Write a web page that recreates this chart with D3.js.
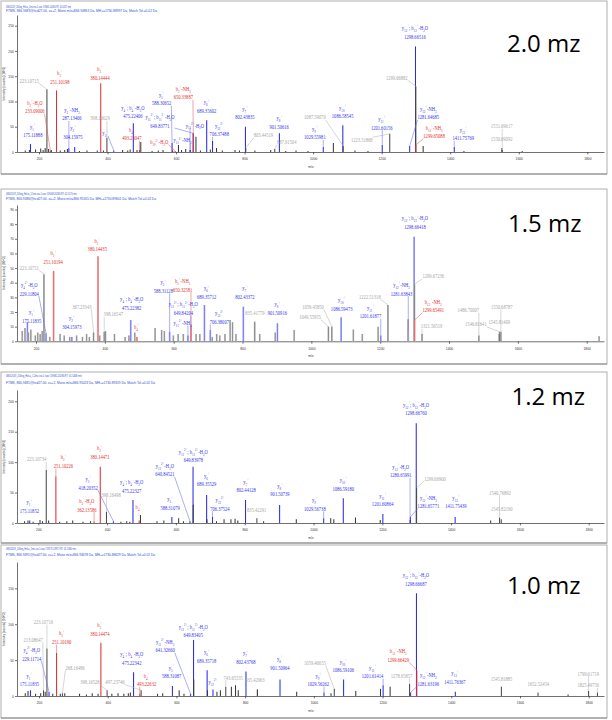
<!DOCTYPE html>
<html><head><meta charset="utf-8">
<script src="https://cdn.jsdelivr.net/npm/d3@7"></script>
<style>body{margin:0;background:#fff}svg{display:block}</style>
</head><body>
<svg id="c" width="612" height="720"></svg>
<script>
// ---------------- DATA ----------------
const xTicks = [200,400,600,800,1000,1200,1400,1600,1800];
const yTicks20 = [0,50,100,150,200,250];
const yTicks15 = [0,10,20,30,40,50,60,70,80,90];
const yTicks12 = [0,50,100,150,200];
const yTicks10 = [0,50,100,150];
const tags = ["2.0 mz","1.5 mz","1.2 mz","1.0 mz"];
const yTitle = "Intensity [counts] (10^3)";
const xTitle = "m/z";

const head20 = ["08052019_200ng_HeLa_2mz-iso-1.raw #19665-20340 RT: 41.6237 min","FTMS, 866.9483@hcd27.00, z=+2, Mono m/z=866.94863 Da, MH+=1730.88997 Da, Match Tol.=0.02 Da"];
const head15 = ["08052019_200ng_HeLa_1.5mz-iso-1.raw #19408-20186 RT: 41.5170 min","FTMS, 866.9486@hcd27.00, z=+2, Mono m/z=866.95165 Da, MH+=1730.89601 Da, Match Tol.=0.02 Da"];
const head12 = ["08052019_200ng_HeLa_1.2mz-iso-1.raw #19681-20280 RT: 41.5448 min","FTMS, 866.9481@hcd27.00, z=+2, Mono m/z=866.95023 Da, MH+=1730.89319 Da, Match Tol.=0.02 Da"];
const head10 = ["08052019_200ng_HeLa_1mz-iso-1.raw #19175-19917 RT: 41.5360 min","FTMS, 866.9491@hcd27.00, z=+2, Mono m/z=866.94678 Da, MH+=1730.88629 Da, Match Tol.=0.02 Da"];

// annotated peaks: [m/z, intensity, kind (b=blue y/b ion, r=red b ion, g=unassigned), ion name, show m/z]
const ions20 = [
 [175.11888,16,"b","y_{1}^{+}",1],[233.09006,3,"r","b_{2}^{+}-H_{2}O",1],[223.10715,124,"g","",1],
 [251.10198,122,"r","b_{2}^{+}",1],[287.13406,8,"b","y_{2}^{+}-NH_{3}",1],[304.15975,10,"b","y_{2}^{+}",1],
 [380.14444,136,"r","b_{3}^{+}",1],[398.16629,28,"g","",1],[418.20352,3,"b","y_{3}^{+}",0],
 [475.22406,57,"b","y_{4}^{+}; b_{4}^{+}-H_{2}O",1],[493.23047,4,"r","b_{4}^{+}",1],[588.30652,18,"b","y_{5}^{+}",1],
 [650.33887,37,"r","b_{5}^{+}-NH_{3}",1],[649.83771,37,"b","y_{11}^{2+}; b_{11}^{2+}-H_{2}O",1],
 [640.83,4,"b","y_{11}^{2+}-H_{2}O",0],[641.32,4,"b","y_{11}^{2+}-NH_{3}",0],[597.3,2,"r","b_{10}^{2+}-H_{2}O",0],
 [689.35602,63,"b","y_{6}^{+}",1],[706.37488,22,"b","y_{12}^{2+}",1],[802.43835,50,"b","y_{7}^{+}",1],
 [803.44519,8,"g","",1],[901.50616,37,"b","y_{8}^{+}",1],[887.91504,6,"g","",1],[1087.59070,12,"g","",1],
 [1029.55981,10,"b","y_{9}^{+}",1],[1086.58545,53,"b","y_{10}^{+}",1],[1223.51868,36,"g","",1],
 [1201.60156,14,"b","y_{11}^{+}",1],[1298.66516,209,"b","y_{12}^{+}; b_{12}^{+}-H_{2}O",1],[1299.66882,130,"g","",1],
 [1281.64685,12,"b","y_{12}^{+}-NH_{3}",1],[1299.65088,14,"r","b_{12}^{+}-NH_{3}",1],[1411.75769,10,"b","y_{13}^{+}",1],
 [1551.69617,4,"g","",1],[1550.69092,8,"g","",1]
];
const ions15 = [
 [175.11835,13,"b","y_{1}^{+}",1],[229.11804,5.5,"b","y_{4}^{2+}-H_{2}O",1],[223.10711,45.7,"g","",1],
 [251.10194,48,"r","b_{2}^{+}",1],[304.15973,3,"b","y_{2}^{+}",1],[367.23343,6,"g","",1],
 [380.14435,58,"r","b_{3}^{+}",1],[398.16547,6.5,"g","",1],[475.22382,14.5,"b","y_{4}^{+}; b_{4}^{+}-H_{2}O",1],
 [493.23,3,"r","b_{4}^{+}",0],[588.31128,6.5,"b","y_{5}^{+}",1],[650.32581,11,"r","b_{5}^{+}-NH_{3}",1],
 [649.84204,8,"b","y_{11}^{2+}; b_{11}^{2+}-H_{2}O",1],[641.32,4,"b","y_{11}^{2+}-NH_{3}",0],
 [689.35712,24.8,"b","y_{6}^{+}",1],[706.38007,7.7,"b","y_{12}^{2+}",1],[802.43372,23.6,"b","y_{7}^{+}",1],
 [835.41779,13.4,"g","",1],[901.50916,12.3,"b","y_{8}^{+}",1],[1059.45850,10,"g","",1],[1049.55955,10,"g","",1],
 [1086.59473,16.4,"b","y_{10}^{+}",1],[1201.61877,4,"b","y_{11}^{+}",1],[1222.51318,24.8,"g","",1],
 [1298.66418,71.4,"b","y_{12}^{+}; b_{12}^{+}-H_{2}O",1],[1299.67236,39,"g","",1],
 [1281.63843,7.7,"b","y_{12}^{+}-NH_{3}",1],[1299.65491,14.5,"r","b_{12}^{+}-NH_{3}",1],[1321.56519,5,"g","",1],
 [1486.70007,4,"g","",1],[1546.81641,6.5,"g","",1],[1550.68787,6.5,"g","",1],[1545.81409,5,"g","",1]
];
const ions12 = [
 [175.11852,4,"b","y_{1}^{+}",1],[223.10734,87,"g","",1],[251.10226,77,"r","b_{2}^{+}",1],
 [380.14471,92.6,"r","b_{3}^{+}",1],[418.20352,3,"b","y_{3}^{+}",1],[362.13586,3,"r","b_{3}^{+}-H_{2}O",1],
 [398.16498,18.6,"g","",1],[475.22327,37.8,"b","y_{4}^{+}; b_{4}^{+}-H_{2}O",1],[493.23,4,"r","b_{4}^{+}",0],
 [588.31079,10,"b","y_{5}^{+}",1],[640.84521,3,"b","y_{11}^{2+}-H_{2}O",1],
 [649.83978,92.6,"b","y_{11}^{2+}; b_{11}^{2+}-H_{2}O",1],[689.35529,46,"b","y_{6}^{+}",1],
 [706.37524,10,"b","y_{12}^{2+}",1],[802.44128,37.8,"b","y_{7}^{+}",1],[835.42291,8,"g","",1],
 [901.50739,29.6,"b","y_{8}^{+}",1],[1029.56738,7.7,"b","y_{9}^{+}",1],[1086.59180,40.6,"b","y_{10}^{+}",1],
 [1201.60864,14.8,"b","y_{11}^{+}",1],[1280.65991,5,"b","y_{12}^{+}-H_{2}O",1],
 [1298.66760,164,"b","y_{12}^{+}; b_{12}^{+}-H_{2}O",1],[1299.66900,58,"g","",1],
 [1281.65771,10,"b","y_{12}^{+}-NH_{3}",1],[1411.75439,10,"b","y_{13}^{+}",1],
 [1540.76892,9,"g","",1],[1545.82190,6,"g","",1]
];
const ions10 = [
 [175.11835,8,"b","y_{1}^{+}",1],[229.11714,6,"b","y_{4}^{2+}-H_{2}O",1],[213.08647,8,"g","",1],
 [223.10716,66,"g","",1],[251.10190,60,"r","b_{2}^{+}",1],[268.16486,4,"g","",1],
 [380.14474,74,"r","b_{3}^{+}",1],[398.16528,8,"g","",1],[497.23746,8,"g","",1],
 [475.22342,33,"b","y_{4}^{+}; b_{4}^{+}-H_{2}O",1],[493.22632,3,"r","b_{4}^{+}",1],[588.31087,14,"b","y_{5}^{+}",1],
 [641.32660,3,"b","y_{11}^{2+}-NH_{3}",1],[649.83405,78,"b","y_{11}^{2+}; b_{11}^{2+}-H_{2}O",1],
 [689.35718,36,"b","y_{6}^{+}",1],[706.37,9,"b","y_{12}^{2+}",0],[743.65535,13,"g","",1],
 [802.43768,34,"b","y_{7}^{+}",1],[835.42963,9,"g","",1],[901.50964,23,"b","y_{8}^{+}",1],
 [1059.46655,10,"g","",1],[1029.56262,5,"b","y_{9}^{+}",1],[1086.59106,23,"b","y_{10}^{+}",1],
 [1201.61414,15,"b","y_{11}^{+}",1],[1278.65857,17,"g","",1],
 [1298.66687,143,"b","y_{12}^{+}; b_{12}^{+}-H_{2}O",1],[1299.66429,36,"r","b_{12}^{+}-NH_{3}",1],
 [1281.63196,5,"b","y_{12}^{+}-NH_{3}",1],[1411.76367,6,"b","y_{13}^{+}",1],[1545.81885,13,"g","",1],
 [1652.52454,5,"g","",1],[1799.61719,7,"g","",1],[1825.49756,5,"g","",1]
];

// unassigned small peaks: [m/z, intensity]
const peaks20 = [[160,3],[172,4],[190,5],[205,7],[212,4],[218,8],[228,6],[236,4],[262,3],[275,4],[283,6],[318,2],[340,3],[370,3],[388,3],[444,4],[459,3],[466,5],[486,4],[497,20],[530,2],[548,3],[562,4],[590,3],[607,14],[616,4],[628,6],[658,30],[671,3],[700,5],[718,8],[735,3],[772,4],[785,3],[830,3],[876,4],[920,2],[950,3],[985,2],[1059,18],[1122,3],[1160,2],[1321,12],[1440,2],[1610,2]];
const peaks15 = [[160,7],[168,9],[178,6],[185,8],[198,4],[205,6],[212,5],[218,7],[240,3],[270,5],[282,4],[298,3],[318,4],[335,3],[347,5],[355,3],[385,4],[402,7],[428,5],[459,3],[470,4],[487,6],[546,9],[565,7.7],[573,7],[599,4],[613,5],[628,5],[665,5],[676,5],[712,3],[725,5],[734,4],[749,5],[764,14.5],[771,13],[781,5],[850,5],[895,6],[950,7.7],[1122,8],[1148,5],[1194,10],[1281,15],[1836,3.5]];
const peaks12 = [[160,3],[170,4],[185,2],[205,5],[212,3],[230,4],[262,2],[283,3],[300,4],[330,2],[352,3],[440,2],[457,3],[466,2],[497,13],[545,3],[565,4],[608,8],[622,3],[650.34,30],[690.36,6],[718,3],[740,6],[760,6],[772,7],[780,4],[855,3],[950,6],[1050,7.7],[1059,6],[1122,9],[1194,5],[1515,4]];
const peaks10 = [[160,4],[168,7],[190,3],[205,4],[218,6],[240,3],[262,3],[275,4],[318,3],[338,2],[355,4],[372,3],[412,3],[430,4],[447,3],[460,4],[466,5],[545,3],[560,4],[608,8],[622,3],[650.34,23],[690.36,8],[718,6],[728,8],[760,13],[772,15],[780,8],[836,9],[950,6],[1050,4],[1122,7],[1194,10],[1222,13],[1740,2]];

// ---------------- LAYOUT (label anchors in data units: [m/z, intensity] of bottom text line) ----------------
const lab20 = [[182,33.6],[188,81],[171,142],[261,140],[296,67],[299,30],[378,148],[378,67],[393,37.5],[474,71],[471,27.7],[558,97],[621,109],[553,53],[655,53],[619,23.7],[551,20],[689,81.6],[726,35.6],[801,69],[855,33.6],[901,50],[923,20],[1005,69],[1005,29.6],[1086,71],[1142,23.7],[1200,49],[1297,229],[1244,147.6],[1336,69],[1353,31.6],[1438,27.7],[1550,51.4],[1550,25.7]];
const lab15 = [[187.5,14],[180.5,32.8],[180.5,50.5],[250,54.3],[304,10],[333,23.6],[378,63],[424.5,18.6],[478,23.2],[492.5,10],[570,34.5],[626,35.5],[628,19.5],[626,12.7],[696,30.4],[732.5,13.4],[807,30.4],[836,19.5],[901,19.5],[1005,23.6],[996,16.8],[1088,22.5],[1172,17.3],[1170,30.4],[1301,78.2],[1354,44.6],[1262,32.8],[1354,21.4],[1349,10.4],[1456,21.4],[1478,11.8],[1553,23.6],[1546,13.4]];
const lab12 = [[174,20],[195,105],[273,94],[379,109],[345,58.7],[341,22.5],[412,47],[471.5,53],[491,26.8],[583,25.2],[568,80.6],[650.6,103.6],[689.5,64],[728,24],[804,54.3],[835,21.4],[902.6,47.7],[1004,24],[1086.6,57],[1201,31.3],[1253.5,79],[1298,180.5],[1353,73.5],[1334,28],[1414,28],[1542,50],[1547,24]];
const lab10 = [[172,16.7],[179,52.5],[183,79],[212.5,103.5],[266,75.6],[305,40],[377.5,87.3],[348,20],[421,20],[470,46.4],[513,16.7],[586,27.9],[567,64],[649,85],[688,49],[706,20],[765,26],[802,47.8],[828.6,22.3],[901,40],[1003,46.4],[1013,16.7],[1085.5,36.2],[1171,27.9],[1255,27.9],[1297,157],[1245.6,51],[1333,17.7],[1410.5,20],[1546.5,24.7],[1653,16.7],[1798.5,31.6],[1798.5,15.3]];

const layout = [
 {top:1,bottom:174,x200:39,x1800:587.3,y0:152,yT:25.7,yTv:250,yAxTop:15,hy:[6.5,10.8],hw:[65,151],hfs:3.2,tagX:507,tagY:52,soft:false},
 {top:189,bottom:364,x200:36,x1800:586.7,y0:341.3,yT:209.5,yTv:90,yAxTop:205,hy:[194.3,199.3],hw:[70.7,150],hfs:3.3,tagX:508,tagY:232,soft:true},
 {top:372,bottom:543,x200:38.3,x1800:588.7,y0:523,yT:401.3,yTv:200,yAxTop:390,hy:[375.3,383],hw:[75.7,149],hfs:3.8,tagX:511.5,tagY:405,soft:false},
 {top:545,bottom:718,x200:39,x1800:588.7,y0:696,yT:588.3,yTv:150,yAxTop:562,hy:[549.3,554.8],hw:[70,149],hfs:3.3,tagX:507,tagY:593.5,soft:false}
];
const panels = [
 {ions:ions20,labs:lab20,peaks:peaks20,yTicks:yTicks20,head:head20},
 {ions:ions15,labs:lab15,peaks:peaks15,yTicks:yTicks15,head:head15},
 {ions:ions12,labs:lab12,peaks:peaks12,yTicks:yTicks12,head:head12},
 {ions:ions10,labs:lab10,peaks:peaks10,yTicks:yTicks10,head:head10}
];

const COL = {
 b:{peak:"#2b2bea",soft:"#a3a3fa",core:"#5a5af0",text:"#3636ee",lead:"#6a6af2"},
 r:{peak:"#e23030",soft:"#f19a9a",core:"#e04040",text:"#e62e2e",lead:"#e65a5a"},
 g:{peak:"#4a4a4a",soft:"#b8b8b8",core:"#555",text:"#a6a6a6",lead:"#b4b4b4"},
 k:{peak:"#3a3a3a",soft:"#bdbdbd",core:"#666"}
};
const LFS = 7, LSX = 0.65, LH = 8.7;
const SERIF = "'Liberation Serif','Times New Roman',serif";
const SANS = "'Liberation Sans',Arial,sans-serif";

const svg = d3.select("#c");

function rich(sel, str, fs){
  const parts = str.split(/(_\{[^}]*\}|\^\{[^}]*\})/).filter(s=>s.length);
  let cur = 0;
  parts.forEach(p=>{
    let off=0, t=p, size=fs;
    if (p.startsWith("_{")) {off=fs*0.28; t=p.slice(2,-1); size=fs*0.68;}
    else if (p.startsWith("^{")) {off=-fs*0.36; t=p.slice(2,-1); size=fs*0.68;}
    sel.append("tspan").attr("dy",(off-cur).toFixed(2)).style("font-size",size+"px").text(t);
    cur = off;
  });
}

panels.forEach((P,pi)=>{
  const L = layout[pi];
  const g = svg.append("g");
  g.append("rect").attr("x",1).attr("y",L.top).attr("width",606).attr("height",L.bottom-L.top)
    .attr("fill","#fff").attr("stroke","#b0b0b0").attr("stroke-width",1);
  g.append("line").attr("x1",1).attr("x2",607).attr("y1",L.bottom).attr("y2",L.bottom)
    .attr("stroke","#8a8a8a").attr("stroke-width",1.2);

  const x = d3.scaleLinear().domain([200,1800]).range([L.x200,L.x1800]);
  const y = d3.scaleLinear().domain([0,L.yTv]).range([L.y0,L.yT]);
  const axX0 = 17, axX1 = 604;
  const xa = d3.scaleLinear().domain([x.invert(axX0),x.invert(axX1)]).range([axX0,axX1]);
  const ya = d3.scaleLinear().domain([0,y.invert(L.yAxTop)]).range([L.y0,L.yAxTop]);

  P.head.forEach((h,i)=>{
    g.append("text").attr("x",6).attr("y",L.hy[i]+L.hfs*0.35)
      .attr("textLength",L.hw[i]).attr("lengthAdjust","spacingAndGlyphs")
      .style("font-family",SANS).style("font-size",L.hfs+"px").attr("fill","#2f4fd0").text(h);
  });

  const gx = g.append("g").attr("transform",`translate(0,${L.y0})`);
  gx.call(d3.axisBottom(xa).tickValues(d3.range(150,1851,50)).tickFormat("").tickSize(1.4).tickSizeOuter(0));
  gx.call(d3.axisBottom(xa).tickValues(xTicks).tickSize(2.4).tickSizeOuter(0).tickPadding(3.5).tickFormat(d3.format("d")));
  gx.selectAll("path,line").attr("stroke","#333").attr("stroke-width",0.7);
  gx.selectAll("text").style("font-family",SANS).style("font-size","3.3px").attr("fill","#333");
  g.append("text").attr("x",311).attr("y",L.y0+16).attr("text-anchor","middle")
    .style("font-family",SANS).style("font-size","3.3px").attr("fill","#333").text(xTitle);

  const gy = g.append("g").attr("transform",`translate(${axX0},0)`);
  gy.call(d3.axisLeft(ya).tickValues(P.yTicks).tickSize(2).tickSizeOuter(0).tickPadding(1.2));
  gy.selectAll("path,line").attr("stroke","#333").attr("stroke-width",0.7);
  gy.selectAll("text").style("font-family",SANS).style("font-size","3.3px").attr("fill","#333");
  g.append("text").attr("transform",`translate(5,${(L.yAxTop+L.y0)/2}) rotate(-90)`).attr("text-anchor","middle")
    .style("font-family",SANS).style("font-size","3.2px").attr("fill","#333").text(yTitle);

  const gp = g.append("g");
  function drawPeaks(data, colKey){
    const c = COL[colKey];
    if (L.soft){
      gp.append("g").selectAll("line").data(data).join("line")
        .attr("x1",d=>x(d[0])).attr("x2",d=>x(d[0])).attr("y1",y(0)).attr("y2",d=>y(d[1]))
        .attr("stroke",c.soft).attr("stroke-width",1.7);
    }
    gp.append("g").selectAll("line").data(data).join("line")
      .attr("x1",d=>x(d[0])).attr("x2",d=>x(d[0])).attr("y1",y(0)).attr("y2",d=>y(d[1]))
      .attr("stroke",L.soft?c.core:c.peak).attr("stroke-width",L.soft?0.5:1.05);
  }
  drawPeaks(P.ions.filter(d=>d[2]==="b"),"b");
  drawPeaks(P.peaks,"k");
  drawPeaks(P.ions.filter(d=>d[2]==="g"),"g");
  drawPeaks(P.ions.filter(d=>d[2]==="r"),"r");

  const gl = g.append("g"), gt = g.append("g");
  P.ions.forEach((d,i)=>{
    const lab = P.labs[i];
    const lx = x(lab[0]), lyB = y(lab[1]);
    const lines = [];
    if (d[3]) lines.push(d[3]);
    if (d[4]) lines.push(d[0].toFixed(5));
    const c = COL[d[2]];
    let maxW = 0;
    lines.forEach((s,k)=>{
      const cy = lyB - (lines.length-1-k)*LH;
      const t = gt.append("text").attr("transform",`translate(${lx},${cy+LFS*0.33}) scale(${LSX},1)`)
        .attr("text-anchor","middle").style("font-family",SERIF).style("font-size",LFS+"px").attr("fill",c.text);
      rich(t,s,LFS);
      maxW = Math.max(maxW, t.node().getComputedTextLength()*LSX);
    });
    const hw = maxW/2;
    const bottom = lyB + LFS*0.4, topY = lyB - (lines.length-1)*LH - LFS*0.4;
    const px = x(d[0]), py = y(d[1]);
    if (Math.abs(px-lx) > 5 || (py-bottom) > 12){
      let sx, sy;
      if (py >= bottom){ sx = Math.max(lx-hw, Math.min(lx+hw, px)); sy = bottom; }
      else { sy = Math.max(topY, Math.min(bottom, py)); sx = px > lx ? lx+hw : lx-hw; }
      gl.append("line").attr("x1",sx).attr("y1",sy).attr("x2",px).attr("y2",py)
        .attr("stroke",c.lead).attr("stroke-width",0.55);
    }
  });

  g.append("text").attr("x",L.tagX).attr("y",L.tagY)
    .style("font-family","'Open Sans',sans-serif").style("font-size","24px").attr("fill","#000").text(tags[pi]);
});
</script>
</body></html>
